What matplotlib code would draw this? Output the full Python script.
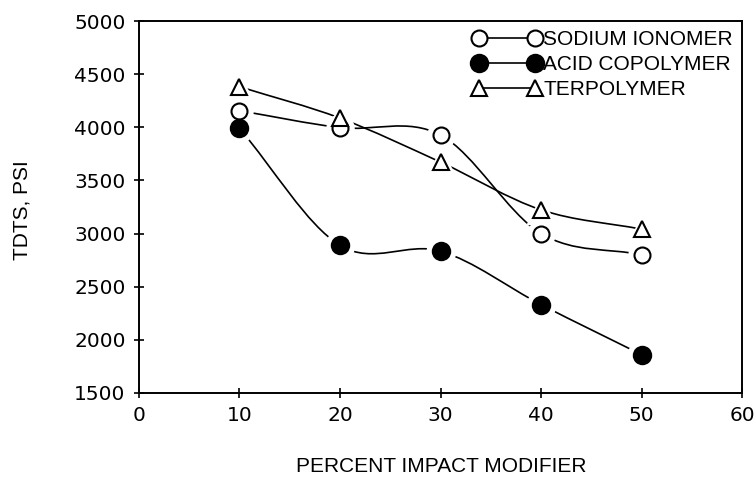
import numpy as np
import matplotlib.pyplot as plt
import matplotlib as mpl
from matplotlib.path import Path
from matplotlib.patches import PathPatch
from matplotlib.lines import Line2D

mpl.rc('font', family=['DejaVu Sans'], size=14)

pct = [10, 20, 30, 40, 50]
sodium = [4156, 3997, 3927, 3000, 2800]
acid = [3990, 2889, 2834, 2331, 1860]
terpoly = [4382, 4086, 3672, 3223, 3041]
labels = ['SODIUM IONOMER', 'ACID COPOLYMER', 'TERPOLYMER']

def smooth_path(x, y):
    # catmull-rom style bezier through the data points
    p = np.column_stack([x, y]).astype(float)
    n = len(p)
    tang = np.zeros_like(p)
    tang[1:-1] = (p[2:] - p[:-2])/2
    tang[0] = p[1] - p[0]
    tang[-1] = p[-1] - p[-2]
    verts = [p[0]]
    codes = [Path.MOVETO]
    for i in range(n - 1):
        verts += [p[i] + tang[i]/3, p[i+1] - tang[i+1]/3, p[i+1]]
        codes += [Path.CURVE4]*3
    return Path(verts, codes)

fig = plt.figure(figsize=(7.55, 4.78), dpi=100)
ax = fig.add_axes([0.184, 0.178, 0.799, 0.778])

styles = [dict(marker='o', mfc='white', mec='black', ms=11.5),
          dict(marker='o', mfc='black', mec='black', ms=12.5),
          dict(marker='^', mfc='white', mec='black', ms=11.5)]

for ys, st in zip([sodium, acid, terpoly], styles):
    ax.add_patch(PathPatch(smooth_path(pct, ys), fc='none', ec='black', lw=1.2, zorder=1))
    ax.plot(pct, ys, ls='none', marker=st['marker'], ms=st['ms'] + 8,
            mfc='white', mec='white', zorder=2)
    ax.plot(pct, ys, ls='none', mew=1.5, zorder=3, **st)

handles = [Line2D([], [], color='black', lw=1.2, mew=1.5, **st) for st in styles]
leg = ax.legend(handles, labels, loc='upper right', numpoints=2, handlelength=3.3,
                frameon=False, handletextpad=0.1, labelspacing=0.28,
                borderaxespad=0.15, borderpad=0.3,
                prop=dict(family='Liberation Sans', size=15))

ax.set_xlim(0, 60)
ax.set_ylim(1500, 5000)
ax.set_xticks(range(0, 61, 10))
ax.set_yticks(range(1500, 5001, 500))
ax.tick_params(direction='inout', length=7.2, width=1.2, top=False, right=False, pad=6,
               labelsize=14.5)
for s in ax.spines.values():
    s.set_linewidth(1.4)

fig.text(0.029, 0.561, 'TDTS, PSI', rotation=90, ha='center', va='center',
         family='Liberation Sans', fontsize=15)
fig.text(0.584, 0.025, 'PERCENT IMPACT MODIFIER', ha='center', va='center',
         family='Liberation Sans', fontsize=15)

plt.savefig('out.png', dpi=100)
